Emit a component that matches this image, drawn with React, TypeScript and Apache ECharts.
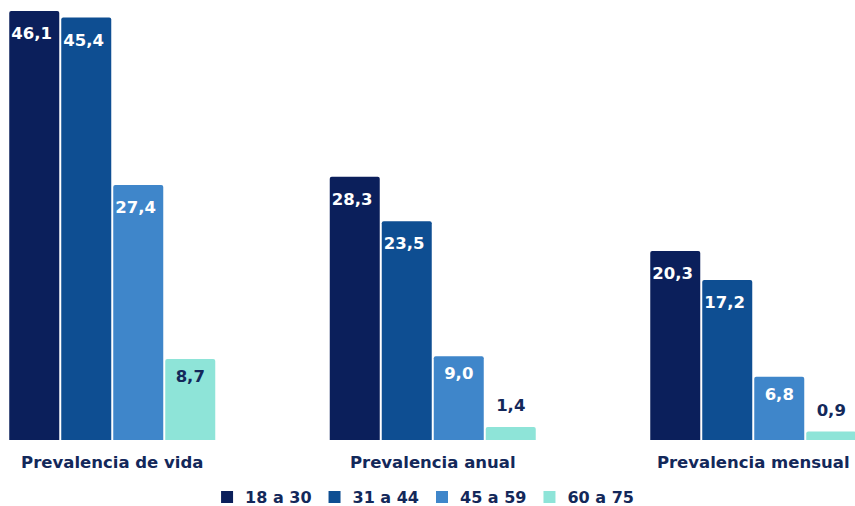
import React, { useEffect, useRef } from "react";
import * as echarts from "echarts";

const categories = ["Prevalencia de vida", "Prevalencia anual", "Prevalencia mensual"];
const seriesNames = ["18 a 30", "31 a 44", "45 a 59", "60 a 75"];
const values18a30 = [46.1, 28.3, 20.3];
const values31a44 = [45.4, 23.5, 17.2];
const values45a59 = [27.4, 9.0, 6.8];
const values60a75 = [8.7, 1.4, 0.9];
const seriesValues = [values18a30, values31a44, values45a59, values60a75];
const colors = ["#0b1f5b", "#0e4e92", "#3f86ca", "#8ee4d8"];
const labelColors = ["#ffffff", "#ffffff", "#ffffff", "#13285a"];

const fmt = (v: number) => v.toFixed(1).replace(".", ",");

function labelFor(v: number) {
  if (v < 3) return { position: "top", distance: 13, color: "#13285a" };
  if (v < 10) return { position: "insideTop", distance: 9 };
  return { position: [2, 14], align: "left", verticalAlign: "top" };
}

export default function App() {
  const ref = useRef<HTMLDivElement>(null);
  useEffect(() => {
    document.body.style.margin = "0";
    if (!ref.current) return;
    const chart = echarts.init(ref.current, undefined, { renderer: "svg" });
    const font = "'DejaVu Sans', sans-serif";
    chart.setOption({
      animation: false,
      textStyle: { fontFamily: font },
      grid: {
        left: -48,
        width: 961.5,
        top: 11,
        bottom: 66,
        containLabel: false,
        outerBoundsMode: "none",
      },
      legend: {
        top: 484,
        left: "center",
        itemWidth: 12,
        itemHeight: 12,
        itemGap: 17,
        icon: "rect",
        textStyle: {
          color: "#13285a",
          fontSize: 16,
          fontWeight: "bold",
          fontFamily: font,
          padding: [0, 0, 0, 7],
        },
        data: seriesNames,
      },
      xAxis: {
        type: "category",
        data: categories,
        axisLine: { show: false },
        axisTick: { show: false },
        axisLabel: {
          color: "#13285a",
          fontSize: 16.5,
          fontWeight: "bold",
          fontFamily: font,
          margin: 14,
        },
      },
      yAxis: {
        type: "value",
        min: 0,
        max: 46.1,
        show: false,
        splitLine: { show: false },
      },
      series: seriesValues.map((vals, si) => ({
        name: seriesNames[si],
        type: "bar",
        barWidth: 50,
        barGap: "4%",
        itemStyle: { color: colors[si], borderRadius: [2, 2, 0, 0] },
        label: {
          show: true,
          position: "insideTop",
          color: labelColors[si],
          fontSize: 16.5,
          fontWeight: "bold",
          fontFamily: font,
          formatter: (p: any) => fmt(p.value),
        },
        data: vals.map((v) => ({ value: v, label: labelFor(v) })),
      })),
    });
    return () => chart.dispose();
  }, []);
  return <div ref={ref} style={{ width: 855, height: 506 }} />;
}
